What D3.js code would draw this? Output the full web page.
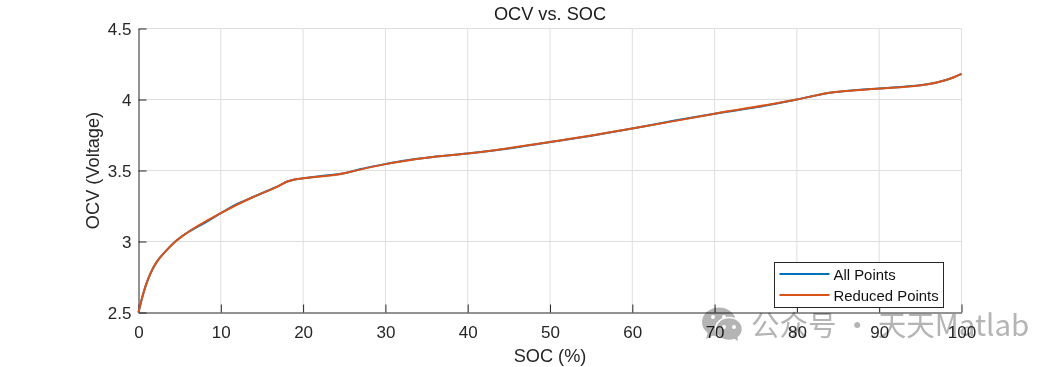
<!DOCTYPE html>
<html>
<head>
<meta charset="utf-8">
<script src="https://cdn.jsdelivr.net/npm/d3@7"></script>
<style>
  html, body { margin: 0; padding: 0; background: #fff; }
  svg { display: block; }
  text { font-family: "Liberation Sans", Arial, sans-serif; }
</style>
</head>
<body>
<div id="chart"></div>
<script>
// Values
const allSoc = [0, 0.4, 0.8, 1.2, 1.7, 2.2, 2.7, 3.2, 3.8, 4.45, 5, 6, 8, 10, 12, 14, 16, 17, 17.5, 18, 18.5, 19, 20, 22, 25, 25.5, 27, 30, 32, 35, 40, 45, 50, 55, 60, 65, 70, 75, 80, 82, 84, 86, 88, 90, 93, 95, 97, 98, 99, 100]
const allOcv = [2.5, 2.595, 2.675, 2.74, 2.805, 2.855, 2.893, 2.925, 2.962, 2.998, 3.025, 3.065, 3.13, 3.2, 3.265, 3.315, 3.365, 3.39, 3.405, 3.421, 3.43, 3.437, 3.445, 3.46, 3.48, 3.487, 3.51, 3.545, 3.567, 3.59, 3.62, 3.655, 3.7, 3.745, 3.795, 3.85, 3.9, 3.945, 4.0, 4.025, 4.047, 4.06, 4.07, 4.077, 4.09, 4.1, 4.12, 4.135, 4.155, 4.18]
const reducedSoc = [0, 0.4, 0.8, 1.2, 1.7, 2.2, 3.2, 4.45, 6, 10, 14, 17, 18, 18.5, 20, 25, 25.5, 30, 35, 40, 50, 60, 70, 80, 84, 86, 90, 95, 97, 98, 99, 100]
const reducedOcv = [2.5, 2.595, 2.675, 2.74, 2.805, 2.855, 2.925, 2.998, 3.065, 3.2, 3.315, 3.39, 3.421, 3.43, 3.445, 3.48, 3.487, 3.545, 3.59, 3.62, 3.7, 3.795, 3.9, 4.0, 4.047, 4.06, 4.077, 4.1, 4.12, 4.135, 4.155, 4.18]
const xTicks = [0, 10, 20, 30, 40, 50, 60, 70, 80, 90, 100]
const yTicks = [2.5, 3, 3.5, 4, 4.5]
const legendLabels = ['All Points', 'Reduced Points']

const width = 1063
const height = 367
const margin = { top: 28.5, right: 101.5, bottom: 54.5, left: 138.5 }
const BLUE = '#0072BD'
const ORANGE = '#D95319'
const AXIS = '#262626'
const GRID = '#DFDFDF'
const MARK = '#B4B4B4'

const svg = d3.select('#chart').append('svg')
  .attr('width', width).attr('height', height)
  .attr('viewBox', `0 0 ${width} ${height}`)

const x = d3.scaleLinear().domain([0, 100]).range([margin.left, width - margin.right])
const y = d3.scaleLinear().domain([2.5, 4.5]).range([height - margin.bottom, margin.top])

// Gridlines
svg.append('g').selectAll('line').data(xTicks.slice(1)).join('line')
  .attr('x1', d => x(d)).attr('x2', d => x(d))
  .attr('y1', margin.top).attr('y2', height - margin.bottom)
  .attr('stroke', GRID)
svg.append('g').selectAll('line').data(yTicks.slice(1)).join('line')
  .attr('x1', margin.left).attr('x2', width - margin.right)
  .attr('y1', d => y(d)).attr('y2', d => y(d))
  .attr('stroke', GRID)

// Axes
svg.append('g')
  .attr('transform', `translate(0,${height - margin.bottom})`)
  .call(d3.axisBottom(x).tickValues(xTicks).tickSizeInner(-8).tickSizeOuter(0).tickPadding(13).tickFormat(d3.format('d')))
  .call(g => {
    g.select('.domain').attr('stroke', AXIS)
    g.selectAll('.tick line').attr('stroke', AXIS)
    g.selectAll('.tick text').attr('fill', AXIS).attr('font-size', 17)
      .attr('font-family', '"Liberation Sans", Arial, sans-serif')
  })
svg.append('g')
  .attr('transform', `translate(${margin.left},0)`)
  .call(d3.axisLeft(y).tickValues(yTicks).tickSizeInner(-8).tickSizeOuter(0).tickPadding(7).tickFormat(d => d))
  .call(g => {
    g.select('.domain').attr('stroke', AXIS)
    g.selectAll('.tick line').attr('stroke', AXIS)
    g.selectAll('.tick text').attr('fill', AXIS).attr('font-size', 17).attr('dy', '0.38em')
      .attr('font-family', '"Liberation Sans", Arial, sans-serif')
  })

// Titles
svg.append('text').attr('x', (margin.left + width - margin.right) / 2).attr('y', 20)
  .attr('text-anchor', 'middle').attr('fill', '#1A1A1A').attr('font-size', 18.2).text('OCV vs. SOC')
svg.append('text').attr('x', (margin.left + width - margin.right) / 2).attr('y', 362)
  .attr('text-anchor', 'middle').attr('fill', AXIS).attr('font-size', 18.2).text('SOC (%)')
svg.append('text')
  .attr('transform', `translate(98.5,${(margin.top + height - margin.bottom) / 2}) rotate(-90)`)
  .attr('text-anchor', 'middle').attr('fill', AXIS).attr('font-size', 18.2).text('OCV (Voltage)')

// Lines
const lineFn = d3.line().x(d => x(d[0])).y(d => y(d[1])).curve(d3.curveMonotoneX)
svg.append('path').datum(d3.zip(allSoc, allOcv))
  .attr('fill', 'none').attr('stroke', BLUE).attr('stroke-width', 2).attr('d', lineFn)
svg.append('path').datum(d3.zip(reducedSoc, reducedOcv))
  .attr('fill', 'none').attr('stroke', ORANGE).attr('stroke-width', 2).attr('d', lineFn)

// Legend
const legend = svg.append('g').attr('transform', 'translate(774.5,262.5)')
legend.append('rect').attr('width', 169).attr('height', 45)
  .attr('fill', '#fff').attr('stroke', AXIS)
legendLabels.forEach((label, i) => {
  const rowY = 11.5 + i * 21
  legend.append('line').attr('x1', 5).attr('x2', 55).attr('y1', rowY).attr('y2', rowY)
    .attr('stroke', i ? ORANGE : BLUE).attr('stroke-width', 2)
  legend.append('text').attr('x', 59).attr('y', rowY + 5.5)
    .attr('fill', '#111').attr('font-size', 14.9).text(label)
})

// Watermark, multiplied so the axis labels show through it
const mark = svg.append('g').style('mix-blend-mode', 'multiply')
mark.append('ellipse').attr('cx', 719).attr('cy', 322).attr('rx', 17).attr('ry', 14.5).attr('fill', MARK)
mark.append('path').attr('d', 'M708 332l-2 7 8-4z').attr('fill', MARK)
mark.append('ellipse').attr('cx', 729).attr('cy', 329).attr('rx', 13.5).attr('ry', 11.5)
  .attr('fill', MARK).attr('stroke', '#fff').attr('stroke-width', 1.5)
mark.append('path').attr('d', 'M733 338l5 3-1-6z').attr('fill', MARK)
const eyes = [[713, 317], [724, 317], [724, 327], [734, 327]]
mark.selectAll('circle').data(eyes).join('circle')
  .attr('cx', d => d[0]).attr('cy', d => d[1]).attr('r', 2).attr('fill', '#fff')
const markText = mark.append('text').attr('x', 751).attr('y', 335.5)
  .attr('fill', MARK).attr('font-size', 28.5)
  .style('font-family', '"Noto Sans CJK SC", sans-serif')
markText.append('tspan').text('公众号 · 天天')
markText.append('tspan').attr('font-size', 29.5).text('Matlab')
</script>
</body>
</html>
